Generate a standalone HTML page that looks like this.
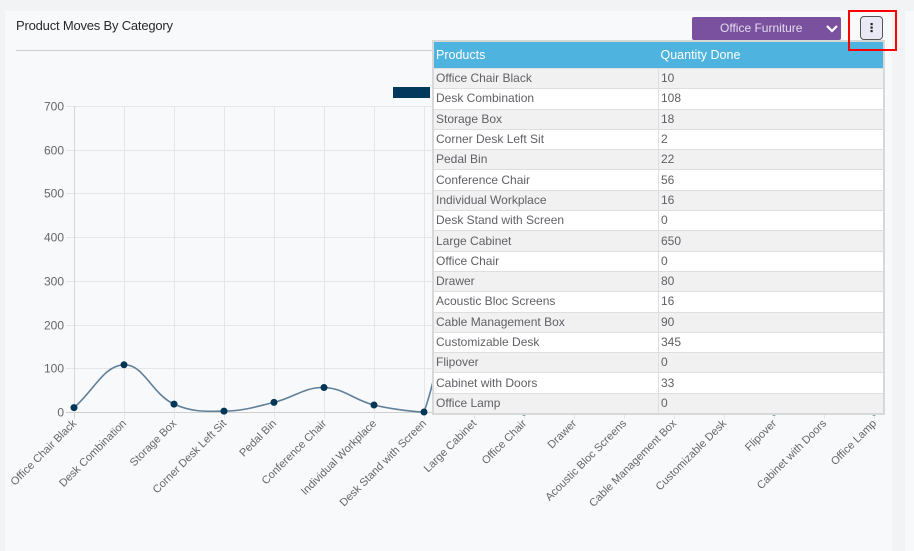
<!DOCTYPE html>
<html><head><meta charset="utf-8">
<style>
html,body{margin:0;padding:0;}
body{width:914px;height:538px;background:#f2f3f5;position:relative;overflow:hidden;font-family:"Liberation Sans",sans-serif;}
.card{position:absolute;left:5px;top:11px;width:887px;height:540px;background:#f8f9fb;}
.card2{position:absolute;left:905px;top:11px;width:20px;height:540px;background:#f8f9fb;}
.title{position:absolute;left:16px;top:18px;font-size:13px;color:#2a2a2a;letter-spacing:-0.2px;}
.hr{position:absolute;left:16px;top:50px;width:866px;height:1px;background:#cfcfcf;}
svg{position:absolute;left:0;top:0;}
.dd{position:absolute;left:692px;top:17px;width:149px;height:23px;background:#7a519e;border-radius:2px;color:#e3dbee;font-size:12px;line-height:23px;}
.dd span{position:absolute;left:28px;top:0;}
.btn{position:absolute;left:860px;top:16px;width:23px;height:24px;background:#e9e9f5;border:1px solid #555;border-radius:4px;box-sizing:border-box;}
.red{position:absolute;left:848px;top:10px;width:49px;height:41px;border:2px solid #f00;box-sizing:border-box;}
table{position:absolute;left:432px;top:40px;width:453px;border-collapse:collapse;border:2px solid #d8d8d8;font-size:12px;color:#5f5f66;background:#fff;}
th{background:#4eb3de;color:#fff;font-weight:normal;text-align:left;height:26px;padding:0 0 0 2px;font-size:12.5px;}
td{height:19.3px;padding:0 0 0 2px;border:1px solid #dedede;line-height:19px;}
tr:nth-child(even) td{background:#f1f1f1;}
td:first-child{width:222px;}
</style></head><body>
<div class="card"></div>
<div class="card2"></div>
<div class="title">Product Moves By Category</div>
<div class="hr"></div>
<svg width="914" height="538" id="chart" xmlns="http://www.w3.org/2000/svg"></svg>
<table>
<tr><th>Products</th><th>Quantity Done</th></tr>
<tr><td>Office Chair Black</td><td>10</td></tr>
<tr><td>Desk Combination</td><td>108</td></tr>
<tr><td>Storage Box</td><td>18</td></tr>
<tr><td>Corner Desk Left Sit</td><td>2</td></tr>
<tr><td>Pedal Bin</td><td>22</td></tr>
<tr><td>Conference Chair</td><td>56</td></tr>
<tr><td>Individual Workplace</td><td>16</td></tr>
<tr><td>Desk Stand with Screen</td><td>0</td></tr>
<tr><td>Large Cabinet</td><td>650</td></tr>
<tr><td>Office Chair</td><td>0</td></tr>
<tr><td>Drawer</td><td>80</td></tr>
<tr><td>Acoustic Bloc Screens</td><td>16</td></tr>
<tr><td>Cable Management Box</td><td>90</td></tr>
<tr><td>Customizable Desk</td><td>345</td></tr>
<tr><td>Flipover</td><td>0</td></tr>
<tr><td>Cabinet with Doors</td><td>33</td></tr>
<tr><td>Office Lamp</td><td>0</td></tr>
</table>
<div class="dd"><span>Office Furniture</span>
<svg width="12" height="8" style="position:absolute;left:134px;top:8px;"><polyline points="1,1 6,6 11,1" fill="none" stroke="#fff" stroke-width="2.2"/></svg></div>
<div class="btn"><svg width="21" height="22" style="position:absolute;left:0;top:0;"><rect x="9.5" y="6" width="2.2" height="2.2" fill="#222"/><rect x="9.5" y="9.5" width="2.2" height="2.2" fill="#222"/><rect x="9.5" y="13" width="2.2" height="2.2" fill="#222"/></svg></div>
<div class="red"></div>
<script>
(function(){
var labels=["Office Chair Black","Desk Combination","Storage Box","Corner Desk Left Sit","Pedal Bin","Conference Chair","Individual Workplace","Desk Stand with Screen","Large Cabinet","Office Chair","Drawer","Acoustic Bloc Screens","Cable Management Box","Customizable Desk","Flipover","Cabinet with Doors","Office Lamp"];
var vals=[10,108,18,2,22,56,16,0,650,0,80,16,90,345,0,33,0];
var x0=74,dx=50,y0=412,ytop=106,sc=(y0-ytop)/700;
var s='';
for(var i=0;i<=7;i++){var y=y0-i*100*sc;y=Math.round(y)+0.5;
s+='<line x1="66" x2="875" y1="'+y+'" y2="'+y+'" stroke="'+(i==0?'#cfcfcf':'#e6e6e6')+'" stroke-width="1"/>';
s+='<text x="64" y="'+(y+4)+'" text-anchor="end" font-size="12" fill="#666" font-family="Liberation Sans,sans-serif">'+(i*100)+'</text>';}
for(var j=0;j<17;j++){var x=x0+j*dx+0.5;
s+='<line x1="'+x+'" x2="'+x+'" y1="'+ytop+'" y2="419" stroke="'+(j==0?'#d6d6d6':'#e6e6e6')+'" stroke-width="1"/>';
s+='<text transform="translate('+(x+2.5)+',424) rotate(-45)" text-anchor="end" font-size="11" fill="#666" font-family="Liberation Sans,sans-serif">'+labels[j]+'</text>';}
var p=vals.map(function(v,i){return {x:x0+i*dx,y:y0-v*sc};});
var t=0.4,cp=[];
for(var i=0;i<p.length;i++){var pr=p[i-1]||p[i],cu=p[i],nx=p[i+1]||p[i];
var d01=Math.hypot(cu.x-pr.x,cu.y-pr.y),d12=Math.hypot(nx.x-cu.x,nx.y-cu.y);
var s01=d01/(d01+d12)||0,s12=d12/(d01+d12)||0;
var fa=t*s01,fb=t*s12;
var c1={x:cu.x-fa*(nx.x-pr.x),y:cu.y-fa*(nx.y-pr.y)},c2={x:cu.x+fb*(nx.x-pr.x),y:cu.y+fb*(nx.y-pr.y)};
c1.y=Math.max(ytop,Math.min(y0,c1.y));c2.y=Math.max(ytop,Math.min(y0,c2.y));
cp.push([c1,c2]);}
var d='M'+p[0].x+','+p[0].y;
for(var i=1;i<p.length;i++){d+=' C'+cp[i-1][1].x.toFixed(2)+','+cp[i-1][1].y.toFixed(2)+' '+cp[i][0].x.toFixed(2)+','+cp[i][0].y.toFixed(2)+' '+p[i].x+','+p[i].y.toFixed(2);}
s+='<path d="'+d+'" fill="none" stroke="#5f8099" stroke-width="1.6"/>';
p.forEach(function(q){s+='<circle cx="'+q.x+'" cy="'+q.y.toFixed(2)+'" r="3.5" fill="#023656"/>';});
s+='<rect x="393" y="87" width="37" height="11" fill="#013a5c"/>';
document.getElementById('chart').innerHTML=s;
})();
</script>
</body></html>
